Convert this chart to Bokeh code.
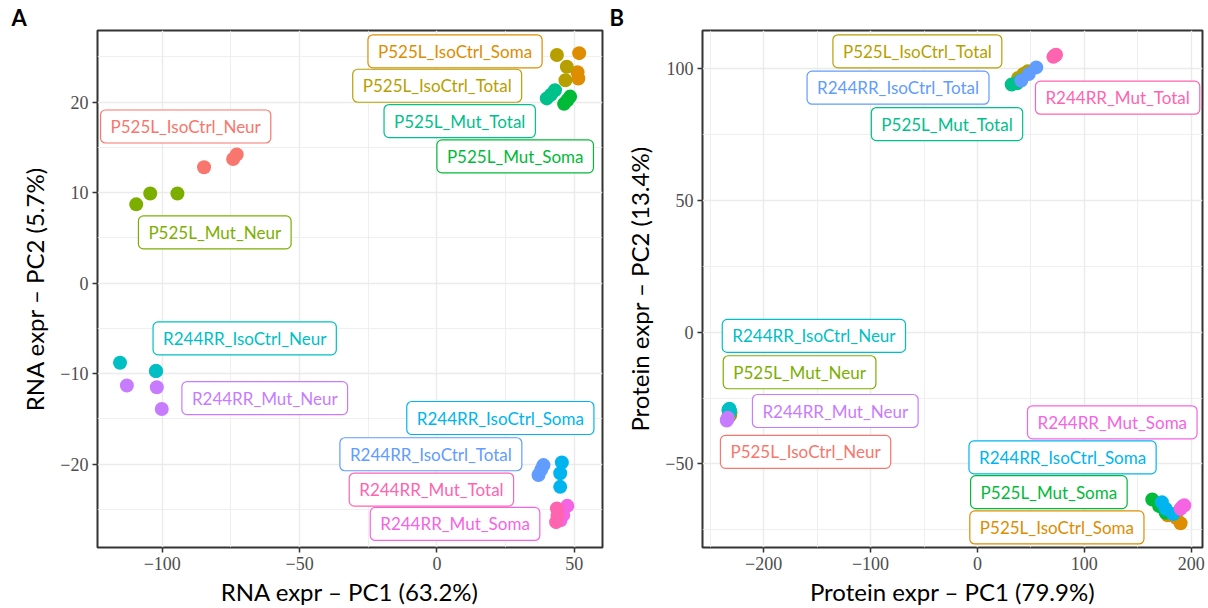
from bokeh.plotting import figure
from bokeh.layouts import row
from bokeh.models import FixedTicker, ColumnDataSource
from bokeh.core.properties import value
from bokeh.embed import file_html
from bokeh.resources import INLINE

# sample groups and their colours
groups = [
    "P525L_IsoCtrl_Neur", "P525L_IsoCtrl_Soma", "P525L_IsoCtrl_Total",
    "P525L_Mut_Neur", "P525L_Mut_Soma", "P525L_Mut_Total",
    "R244RR_IsoCtrl_Neur", "R244RR_IsoCtrl_Soma", "R244RR_IsoCtrl_Total",
    "R244RR_Mut_Neur", "R244RR_Mut_Soma", "R244RR_Mut_Total",
]
colors = [
    "#F8766D", "#DE8C00", "#B79F00", "#7CAE00", "#00BA38", "#00C08B",
    "#00BFC4", "#00B4F0", "#619CFF", "#C77CFF", "#F564E3", "#FF64B0",
]

# RNA PCA scores, three replicates per group (same order as groups)
rna_pc1 = [
    [-84.8, -74.2, -72.9], [51.8, 51.2, 51.5], [43.7, 47.3, 46.8],
    [-109.5, -104.4, -94.5], [48.5, 46.3, 47.5], [40.0, 43.0, 41.5],
    [-115.4, -102.3, -102.3], [45.5, 44.9, 44.9], [38.8, 37.0, 38.0],
    [-112.9, -102.0, -100.2], [47.5, 46.0, 45.0], [43.7, 43.4, 43.9],
]
rna_pc2 = [
    [12.8, 13.7, 14.2], [25.4, 23.3, 22.6], [25.2, 23.9, 22.4],
    [8.7, 9.9, 9.9], [20.6, 19.8, 20.2], [20.4, 21.3, 20.8],
    [-8.8, -9.7, -9.7], [-19.8, -21.0, -22.5], [-20.1, -21.2, -20.6],
    [-11.3, -11.5, -13.9], [-24.6, -25.6, -26.2], [-24.9, -26.4, -25.7],
]
# repelled label anchors for the RNA panel
rna_lab_pc1 = [-91.5, 6.6, 0.1, -80.9, 28.5, 8.3, -70.0, 23.1, -2.2, -62.7, 6.6, -2.0]
rna_lab_pc2 = [17.3, 25.6, 21.8, 5.6, 14.0, 17.9, -6.1, -14.9, -18.9, -12.7, -26.6, -22.8]

# protein PCA scores
prot_pc1 = [
    [-231.5, -232.0, -232.5], [178.0, 186.0, 190.0], [38.0, 43.0, 47.0],
    [-231.0, -232.0, -231.5], [163.5, 170.0, 176.0], [32.0, 37.0, 40.0],
    [-232.0, -231.5, -233.0], [172.5, 176.0, 183.0], [41.0, 48.0, 55.0],
    [-234.0, -233.5, -234.5], [190.0, 192.0, 193.5], [71.0, 72.5, 73.5],
]
prot_pc2 = [
    [-31.5, -31.0, -32.0], [-69.5, -70.5, -72.5], [96.5, 98.0, 99.0],
    [-30.5, -31.0, -31.5], [-63.5, -66.0, -68.5], [94.0, 94.5, 95.5],
    [-29.0, -30.0, -29.5], [-64.5, -67.0, -69.0], [95.5, 98.0, 100.5],
    [-33.0, -32.5, -33.5], [-67.0, -66.0, -65.7], [104.5, 105.0, 105.3],
]
prot_lab_pc1 = [-160.8, 74.3, -56.2, -166.4, 66.8, -28.5, -153.0, 79.6, -74.3, -133.0, 126.1, 131.1]
prot_lab_pc2 = [-45.4, -74.1, 106.6, -15.2, -60.7, 79.0, -1.4, -47.5, 92.8, -29.9, -34.2, 89.0]

# axis ticks
rna_xticks = [-100, -50, 0, 50]
rna_yticks = [-20, -10, 0, 10, 20]
prot_xticks = [-200, -100, 0, 100, 200]
prot_yticks = [-50, 0, 50, 100]

LABEL_FONT = "Lato"
TICK_FONT = "Liberation Serif"


def fmt(v):
    return str(v).replace("-", "\u2212")


def minor_of(ticks):
    step = ticks[1] - ticks[0]
    out = [ticks[0] - step / 2]
    for t in ticks:
        out.append(t + step / 2)
    return out


def panel(pc1, pc2, lab1, lab2, xr, yr, xticks, yticks, xlab, ylab, letter,
          width, left, right, letter_offset):
    p = figure(width=width, height=608, x_range=xr, y_range=yr,
               output_backend="svg", toolbar_location=None,
               min_border_left=left, min_border_right=right,
               min_border_top=30, min_border_bottom=61)
    p.background_fill_color = "white"
    p.border_fill_color = "white"
    p.outline_line_color = "#333333"
    p.outline_line_width = 2

    # panel letter drawn as the figure title, pushed out to the left edge
    p.title.text = letter
    p.title.align = "left"
    p.title.offset = letter_offset
    p.title.standoff = 0
    p.title.text_font = LABEL_FONT
    p.title.text_font_style = "bold"
    p.title.text_font_size = "22px"
    p.title.text_color = "black"

    p.xaxis.ticker = FixedTicker(ticks=xticks, minor_ticks=minor_of(xticks))
    p.yaxis.ticker = FixedTicker(ticks=yticks, minor_ticks=minor_of(yticks))
    p.xaxis.major_label_overrides = {t: fmt(t) for t in xticks}
    p.yaxis.major_label_overrides = {t: fmt(t) for t in yticks}
    for ax in (p.xaxis, p.yaxis):
        ax.axis_line_color = None
        ax.major_tick_line_color = "#333333"
        ax.major_tick_line_width = 1.5
        ax.major_tick_out = 5
        ax.major_tick_in = 0
        ax.minor_tick_line_color = None
        ax.major_label_text_font = TICK_FONT
        ax.major_label_text_font_size = "18px"
        ax.major_label_text_color = "#4D4D4D"
        ax.axis_label_text_font = LABEL_FONT
        ax.axis_label_text_font_size = "24px"
        ax.axis_label_text_font_style = "normal"
        ax.axis_label_text_color = "black"
    p.xaxis.axis_label = xlab
    p.yaxis.axis_label = ylab
    p.xaxis.major_label_standoff = 4
    p.yaxis.major_label_standoff = 4
    p.xaxis.axis_label_standoff = 4
    p.yaxis.axis_label_standoff = 8

    for g in (p.xgrid, p.ygrid):
        g.grid_line_color = "#EBEBEB"
        g.grid_line_width = 1.4
        g.minor_grid_line_color = "#EBEBEB"
        g.minor_grid_line_width = 0.8

    xs, ys, cs = [], [], []
    for i, c in enumerate(colors):
        xs += pc1[i]
        ys += pc2[i]
        cs += [c] * len(pc1[i])
    p.scatter(x=xs, y=ys, color=cs, size=14, line_width=0)

    lab = ColumnDataSource(dict(x=lab1, y=lab2, text=groups, color=colors))
    p.text(x="x", y="y", text="text", source=lab, text_color="color",
           text_font=value(LABEL_FONT), text_font_size="17px",
           text_align="center", text_baseline="middle",
           background_fill_color="white", border_line_color="color",
           border_line_width=1.2, padding=(10, 6), border_radius=5)
    return p


pa = panel(rna_pc1, rna_pc2, rna_lab_pc1, rna_lab_pc2,
           (-123.6, 60.3), (-29.2, 27.9), rna_xticks, rna_yticks,
           "RNA expr \u2013 PC1 (63.2%)", "RNA expr \u2013 PC2 (5.7%)", "A",
           605, 97, 3, -86)
pb = panel(prot_pc1, prot_pc2, prot_lab_pc1, prot_lab_pc2,
           (-257.2, 210.5), (-81.7, 114.5), prot_xticks, prot_yticks,
           "Protein expr \u2013 PC1 (79.9%)", "Protein expr \u2013 PC2 (13.4%)", "B",
           603, 97, 6, -93)

layout = row(pa, pb)
open("out.html", "w").write(file_html(layout, INLINE))
